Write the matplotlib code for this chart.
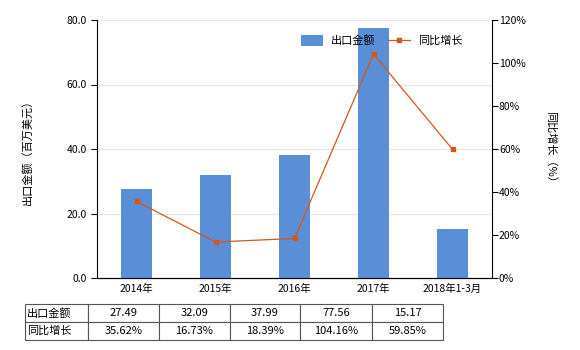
import matplotlib
matplotlib.use("Agg")
import matplotlib.pyplot as plt
from matplotlib.ticker import FuncFormatter

plt.rcParams['font.family'] = ['Noto Sans CJK SC', 'DejaVu Sans']
plt.rcParams['font.size'] = 7.5

years = ['2014年', '2015年', '2016年', '2017年', '2018年1-3月']
export_value = [27.49, 32.09, 37.99, 77.56, 15.17]
growth = [35.62, 16.73, 18.39, 104.16, 59.85]

bar_color = '#5a8ed6'
line_color = '#d4561a'

fig = plt.figure(figsize=(5.8, 3.5), dpi=100)
ax = fig.add_axes([97 / 580, 72 / 350, 395 / 580, 258 / 350])
x = list(range(len(years)))
ax.bar(x, export_value, width=0.4, color=bar_color, label='出口金额', zorder=3)
ax.set_xlim(-0.5, len(years) - 0.5)
ax.set_ylim(0, 80)
ax.set_yticks([0, 20, 40, 60, 80])
ax.yaxis.set_major_formatter(FuncFormatter(lambda v, p: f'{v:.1f}'))
ax.set_xticks(x)
ax.set_xticklabels(years)
ax.grid(axis='y', color='#e6e6e6', linewidth=0.8, zorder=0)
ax.set_ylabel('出口金额（百万美元）', labelpad=24, fontsize=8)
for s in ['top', 'right']:
    ax.spines[s].set_visible(False)
ax.tick_params(axis='x', length=0, pad=4)
ax.tick_params(axis='y', length=4, width=0.8)

ax2 = ax.twinx()
ax2.plot(x, growth, color=line_color, linewidth=0.9, marker='s', markersize=3.5,
         label='同比增长', zorder=4)
ax2.set_ylim(0, 120)
ax2.set_yticks([0, 20, 40, 60, 80, 100, 120])
ax2.yaxis.set_major_formatter(FuncFormatter(lambda v, p: f'{v:.0f}%'))
ax2.set_ylabel('同比增长（%）', rotation=270, labelpad=22, fontsize=8)
for s in ['top', 'left']:
    ax2.spines[s].set_visible(False)
ax2.tick_params(axis='y', length=4, width=0.8, pad=1)

h1, l1 = ax.get_legend_handles_labels()
h2, l2 = ax2.get_legend_handles_labels()
ax2.legend(h1 + h2, l1 + l2, loc='upper right', bbox_to_anchor=(0.95, 0.98),
           ncol=2, frameon=False, handlelength=2.0, handleheight=1.1,
           columnspacing=1.1, handletextpad=0.7, fontsize=8)

# data table under the chart
cell_text = [[f'{v:.2f}' for v in export_value], [f'{v:.2f}%' for v in growth]]
rows = ['出口金额', '同比增长']
table_data = [[rows[i]] + cell_text[i] for i in range(2)]
tab = fig.add_axes([25 / 580, 10 / 350, 418 / 580, 36 / 350])
tab.axis('off')
t = tab.table(cellText=table_data, bbox=[0, 0, 1, 1],
              colWidths=[63, 71, 71, 71, 72, 71], cellLoc='center')
t.auto_set_font_size(False)
for (r, c), cell in t.get_celld().items():
    cell.set_fontsize(8)
    cell.set_edgecolor('#555555')
    cell.set_linewidth(0.8)
    if c == 0:
        cell.set_text_props(ha='left')
        cell.PAD = 0.03

fig.savefig('out.png', dpi=100)
